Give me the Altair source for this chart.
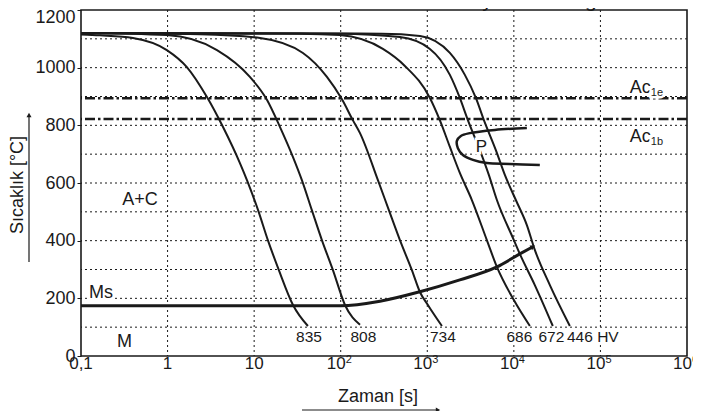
import altair as alt
import pandas as pd

FONT = "Liberation Sans"
INK = "#1a1a1a"

# ---------------- data ----------------
# cooling curves: time [s] and temperature [°C]
c835_t = [0.1, 0.166, 0.398, 0.98, 1.67, 2.85, 4.37, 6.85, 8.26, 11.1, 14.4, 19.3, 28.1, 41.8]
c835_T = [1115, 1112, 1103, 1061, 1002, 898, 794, 669, 610, 506, 402, 298, 177, 104]
c808_t = [0.1, 0.98, 3.72, 8.93, 14.1, 19.9, 28.1, 35.6, 46.4, 60.6, 81.3, 112, 167]
c808_T = [1120, 1113, 1061, 968, 888, 794, 690, 610, 506, 402, 298, 177, 108]
c734_t = [0.1, 2.37, 11.7, 36.6, 69.3, 103, 138, 167, 269, 360, 483, 664, 822, 1016, 1476]
c734_T = [1120, 1116, 1103, 1051, 968, 891, 818, 773, 610, 506, 402, 298, 222, 177, 104]
c686_t = [0.1, 33.8, 97.7, 307, 551, 1072, 1396, 1824, 2377, 3273, 4875, 6368, 10000, 15310]
c686_T = [1120, 1118, 1113, 1065, 1006, 895, 818, 725, 635, 541, 402, 309, 194, 104]
c672_t = [0.1, 97.7, 483, 1072, 1824, 2377, 2943, 4047, 5140, 6368, 10000, 11720, 17460, 28180]
c672_T = [1120, 1118, 1106, 1065, 975, 895, 818, 714, 628, 541, 402, 354, 246, 104]
c446_t = [0.1, 300, 822, 1824, 2716, 3640, 4508, 6194, 7870, 10540, 14130, 17460, 26060, 44360]
c446_T = [1120, 1118, 1110, 1051, 975, 895, 818, 714, 628, 541, 454, 368, 246, 104]

# martensite start line
ms_t = [0.1, 100, 284, 822, 2377, 6368, 11720, 16600]
ms_T = [174, 174, 190, 223, 264, 309, 354, 379]

# pearlite region boundary
p_t = [14130, 6040, 3105, 2443, 2198, 2254, 2576, 3365, 4875, 8995, 19950]
p_T = [791, 784, 773, 763, 746, 721, 697, 680, 669, 666, 662]

# critical temperatures
ac_names = ["Ac1e", "Ac1b"]
ac_T = [894, 822]

# hardness labels
hv_text = ["835", "808", "734", "686", "672", "446 HV"]
hv_t = [43.0, 183, 1514, 11590, 27100, 81660]
hv_T = [66, 66, 66, 66, 66, 66]

# region labels
reg_text = ["A+C", "Ms", "M"]
reg_t = [0.48, 0.17, 0.318]
reg_T = [541, 218, 49]

# grid
grid_T = [100, 200, 300, 400, 500, 600, 700, 800, 900, 1000, 1100]
grid_t = [1, 10, 100, 1000, 10000, 100000]

# x tick labels
xt_plain_t = [0.1, 1, 10]
xt_plain = ["0,1", "1", "10"]
xt_pow_t = [100, 1000, 10000, 100000, 1000000]
xt_pow_sup = ["2", "3", "4", "5", "6"]

y_ticks = [0, 200, 400, 600, 800, 1000, 1200]

# ---------------- tables ----------------
curves = {"835": (c835_t, c835_T), "808": (c808_t, c808_T), "734": (c734_t, c734_T),
          "686": (c686_t, c686_T), "672": (c672_t, c672_T), "446": (c446_t, c446_T)}
rows = []
for name, (ts, Ts) in curves.items():
    for i, (a, b) in enumerate(zip(ts, Ts)):
        rows.append({"curve": name, "t": a, "T": b, "i": i})
df_curves = pd.DataFrame(rows)
df_ms = pd.DataFrame({"t": ms_t, "T": ms_T, "i": range(len(ms_t))})
df_p = pd.DataFrame({"t": p_t, "T": p_T, "i": range(len(p_t))})
df_ac = pd.DataFrame({"name": ac_names, "T": ac_T})
df_hv = pd.DataFrame({"text": hv_text, "t": hv_t, "T": hv_T})
df_reg = pd.DataFrame({"text": reg_text, "t": reg_t, "T": reg_T})
df_gT = pd.DataFrame({"T": grid_T})
df_gt = pd.DataFrame({"t": grid_t})
df_xp = pd.DataFrame({"t": xt_plain_t, "text": xt_plain})
df_xw = pd.DataFrame({"t": xt_pow_t, "sup": xt_pow_sup, "base": ["10"] * len(xt_pow_t)})
one = pd.DataFrame({"a": [0]})

xs = alt.Scale(type="log", domain=[0.1, 1e6])
ys = alt.Scale(domain=[0, 1200])
yaxis = alt.Axis(values=y_ticks, format="d", grid=False, domain=False, ticks=True, tickSize=4,
                 tickColor=INK, tickWidth=1, labelFont=FONT, labelFontSize=18,
                 labelColor=INK, labelPadding=2, title=None,
                 labelOffset={"condition": {"test": "datum.value == 1200", "value": 7}, "value": 0})
X = alt.X("t:Q", scale=xs, axis=None)
Y = alt.Y("T:Q", scale=ys, axis=yaxis)

grid_h = alt.Chart(df_gT).mark_rule(color=INK, strokeWidth=1, strokeDash=[2, 3]).encode(y=Y)
grid_v = alt.Chart(df_gt).mark_rule(color=INK, strokeWidth=1, strokeDash=[2, 3]).encode(x=X)
ac_lines = alt.Chart(df_ac).mark_rule(color=INK, strokeWidth=2.4, strokeDash=[10, 3, 2.5, 3]).encode(y=Y)

lines = alt.Chart(df_curves).mark_line(color=INK, strokeWidth=2, interpolate="monotone").encode(
    x=X, y=Y, detail="curve:N", order="i:Q")
ms_line = alt.Chart(df_ms).mark_line(color=INK, strokeWidth=3, interpolate="monotone").encode(
    x=X, y=Y, order="i:Q")
ms_head = alt.Chart(df_ms.tail(1)).mark_point(shape="triangle-right", filled=True, size=30,
                                             color=INK, opacity=1, angle=332).encode(x=X, y=Y)
p_line = alt.Chart(df_p).mark_line(color=INK, strokeWidth=2.5, interpolate="catmull-rom").encode(
    x=X, y=Y, order="i:Q")


def halo_text(df, size, **kw):
    base = alt.Chart(df)
    h = base.mark_text(font=FONT, fontSize=size, color="white", stroke="white", strokeWidth=5, **kw).encode(
        x=X, y=Y, text="text:N")
    t = base.mark_text(font=FONT, fontSize=size, color=INK, **kw).encode(x=X, y=Y, text="text:N")
    return h + t


hv_labels = halo_text(df_hv, 15.5, baseline="middle", align="center")
reg_labels = halo_text(df_reg, 18, baseline="middle", align="center")
p_label = halo_text(pd.DataFrame({"text": ["P"], "t": [4217], "T": [725]}), 17,
                    baseline="middle", align="center")
ac_main = alt.Chart(pd.DataFrame({"text": ["Ac", "Ac"], "t": [218000, 218000], "T": [912, 742]})).mark_text(
    font=FONT, fontSize=18, color=INK, align="left", baseline="alphabetic").encode(x=X, y=Y, text="text:N")
ac_sub = halo_text(pd.DataFrame({"text": ["1e", "1b"], "t": [382000, 382000], "T": [902, 732]}), 11,
                   align="left", baseline="alphabetic")

# x tick labels (below the plot)
xl_plain = alt.Chart(df_xp).mark_text(font=FONT, fontSize=17, color=INK, baseline="middle",
                                      align="center").encode(x=X, y=alt.value(354), text="text:N")
xl_base = alt.Chart(df_xw).mark_text(font=FONT, fontSize=17, color=INK, baseline="middle",
                                     align="right", dx=5).encode(x=X, y=alt.value(354), text="base:N")
xl_sup = alt.Chart(df_xw).mark_text(font=FONT, fontSize=11, color=INK, baseline="middle",
                                    align="left", dx=5).encode(x=X, y=alt.value(350), text="sup:N")

# axis titles with arrows
x_title = alt.Chart(one).mark_text(font=FONT, fontSize=18, color=INK, align="center",
                                   baseline="middle").encode(x=alt.value(297), y=alt.value(387),
                                                             text=alt.value("Zaman [s]"))
x_arrow = alt.Chart(one).mark_rule(color=INK, strokeWidth=1.2).encode(
    x=alt.value(221), x2=alt.value(355), y=alt.value(400))
x_head = alt.Chart(one).mark_point(shape="triangle-right", filled=True, size=25, color=INK,
                                   opacity=1).encode(x=alt.value(357), y=alt.value(400))
y_title = alt.Chart(one).mark_text(font=FONT, fontSize=18, color=INK, align="center",
                                   baseline="middle", angle=270).encode(
    x=alt.value(-63), y=alt.value(175), text=alt.value("Sıcaklık  [°C]"))
y_arrow = alt.Chart(one).mark_rule(color=INK, strokeWidth=1.2).encode(
    x=alt.value(-52), y=alt.value(107), y2=alt.value(252))
y_head = alt.Chart(one).mark_point(shape="triangle-up", filled=True, size=25, color=INK,
                                   opacity=1).encode(x=alt.value(-52), y=alt.value(105))
top_title = alt.Chart(one).mark_text(font=FONT, fontSize=21, color=INK, align="right",
                                     baseline="alphabetic").encode(
    x=alt.value(602), y=alt.value(-3), text=alt.value("Ostenizasyon Sıcaklığı 1120 °C"))

chart = alt.layer(
    grid_h, grid_v, ac_lines, lines, p_line, ms_line, ms_head,
    hv_labels, reg_labels, p_label, ac_main, ac_sub,
    xl_plain, xl_base, xl_sup, x_title, x_arrow, x_head, y_title, y_arrow, y_head, top_title,
).properties(
    width=606, height=346,
    padding={"left": 73, "top": 2, "right": 6, "bottom": 55},
    autosize=alt.AutoSizeParams(type="none"),
    background="white",
).configure_view(stroke=INK, strokeWidth=1.6)

chart.save("out.html", embed_options={"renderer": "svg", "actions": False})
